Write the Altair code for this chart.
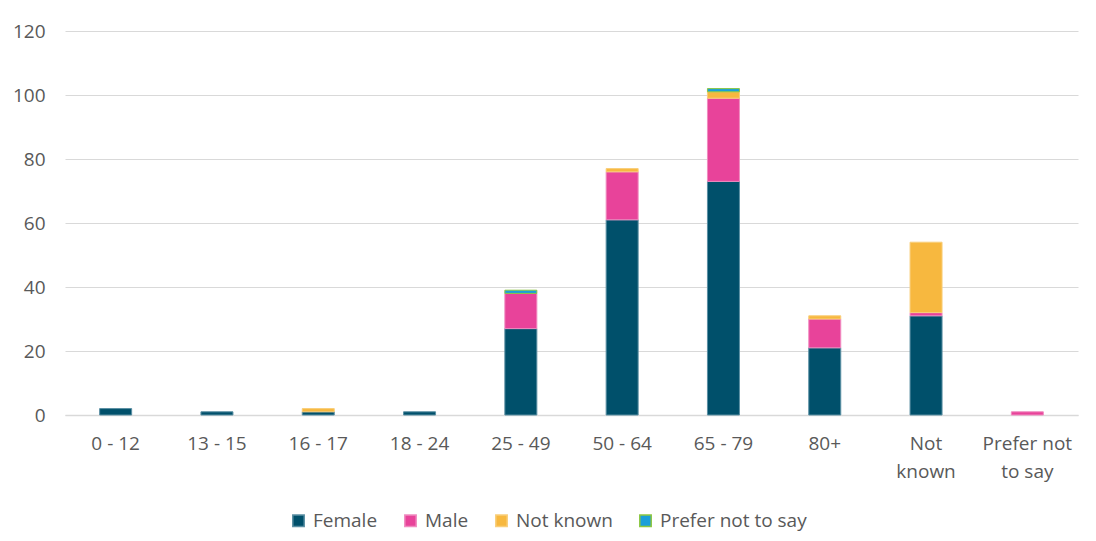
import altair as alt
import pandas as pd

categories = ["0 - 12", "13 - 15", "16 - 17", "18 - 24", "25 - 49", "50 - 64",
              "65 - 79", "80+", "Not known", "Prefer not to say"]
series = ["Female", "Male", "Not known", "Prefer not to say"]
female = [2, 1, 1, 1, 27, 61, 73, 21, 31, 0]
male = [0, 0, 0, 0, 11, 15, 26, 9, 1, 1]
not_known = [0, 0, 1, 0, 0, 1, 2, 1, 22, 0]
prefer_not = [0, 0, 0, 0, 1, 0, 1, 0, 0, 0]
y_ticks = [0, 20, 40, 60, 80, 100, 120]

fills = ["#00506B", "#E8439A", "#F7B83F", "#1A9FD9"]
strokes = ["#5A8FA3", "#F08CC0", "#F9CE7A", "#8CC63F"]

rows = []
for s_i, (name, vals) in enumerate(zip(series, [female, male, not_known, prefer_not])):
    for c, v in zip(categories, vals):
        rows.append({"Age": c, "Gender": name, "Count": v, "order": s_i})
df = pd.DataFrame(rows)

font = "Open Sans"
gray = "#595959"

label_expr = ("datum.label == 'Not known' ? ['Not', 'known'] : "
              "datum.label == 'Prefer not to say' ? ['Prefer not', 'to say'] : datum.label")

chart = alt.Chart(df).mark_bar(size=32, strokeWidth=1).encode(
    x=alt.X("Age:N", sort=categories, title=None,
            scale=alt.Scale(paddingInner=0.2, paddingOuter=0.1),
            axis=alt.Axis(labelAngle=0, labelExpr=label_expr, labelFont=font,
                          labelFontSize=19, labelColor=gray, labelPadding=19,
                          labelLineHeight=28, ticks=False, domainColor="#D9D9D9",
                          domainWidth=1.5, grid=False)),
    y=alt.Y("Count:Q", title=None,
            scale=alt.Scale(domain=[0, 120], nice=False),
            axis=alt.Axis(values=y_ticks, labelFont=font, labelFontSize=19,
                          labelColor=gray, labelPadding=20, ticks=False,
                          domain=False, gridColor="#D9D9D9", gridWidth=1.2)),
    color=alt.Color("Gender:N", sort=series,
                    scale=alt.Scale(domain=series, range=fills),
                    legend=alt.Legend(title=None, orient="none", direction="horizontal",
                                      legendX=224, legendY=480, symbolType="square",
                                      symbolSize=130, symbolStrokeWidth=1.5,
                                      labelFont=font, labelFontSize=19, labelColor=gray,
                                      columnPadding=23, labelOffset=5)),
    stroke=alt.Stroke("Gender:N", sort=series,
                      scale=alt.Scale(domain=series, range=strokes),
                      legend=None),
    order=alt.Order("order:Q", sort="ascending"),
).transform_filter(
    alt.datum.Count > 0
).properties(
    width=1013, height=384,
    background="white",
    autosize=alt.AutoSizeParams(type="none"),
    padding={"left": 57, "top": 23, "right": 10, "bottom": 118},
).configure_view(stroke="transparent", strokeWidth=0)

chart.save("out.html", embed_options={"renderer": "svg", "actions": False})
